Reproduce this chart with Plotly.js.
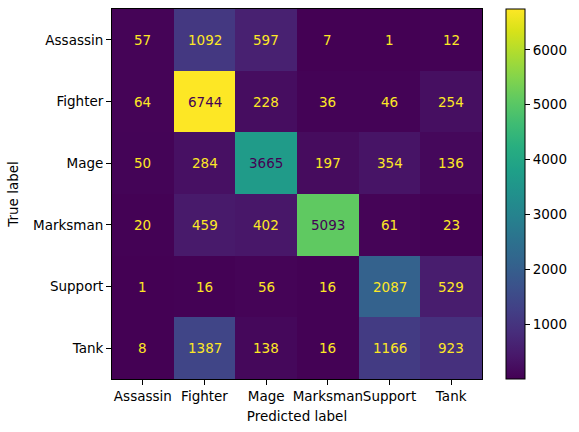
<!DOCTYPE html>
<html><head><meta charset="utf-8">
<script src="https://cdn.plot.ly/plotly-3.0.1.min.js"></script>
<style>html,body{margin:0;padding:0;background:#fff}#plot{width:579px;height:432px}</style>
</head><body><div id="plot"></div>
<script>
const labels = ["Assassin", "Fighter", "Mage", "Marksman", "Support", "Tank"];
const rowAssassin = [57, 1092, 597, 7, 1, 12];
const rowFighter = [64, 6744, 228, 36, 46, 254];
const rowMage = [50, 284, 3665, 197, 354, 136];
const rowMarksman = [20, 459, 402, 5093, 61, 23];
const rowSupport = [1, 16, 56, 16, 2087, 529];
const rowTank = [8, 1387, 138, 16, 1166, 923];
const cbTicks = [1000, 2000, 3000, 4000, 5000, 6000];

const z = [rowAssassin, rowFighter, rowMage, rowMarksman, rowSupport, rowTank];
const flat = z.flat();
const zmin = Math.min(...flat), zmax = Math.max(...flat);
const thresh = (zmin + zmax) / 2;
const fontFam = "DejaVu Sans, sans-serif";
const fs = 13.5;

const annotations = [];
z.forEach((row, i) => row.forEach((v, j) => {
  annotations.push({
    x: labels[j], y: labels[i], xref: 'x', yref: 'y', text: String(v), showarrow: false,
    font: {family: fontFam, size: fs, color: v < thresh ? '#fde725' : '#440154'}
  });
}));

const trace = {
  type: 'heatmap', x: labels, y: labels, z: z, colorscale: 'Viridis',
  zmin: zmin, zmax: zmax, xgap: 0, ygap: 0, hoverinfo: 'none',
  colorbar: {
    x: 1.065, xanchor: 'left', xref: 'paper', y: 0.5, yanchor: 'middle', len: 1, lenmode: 'fraction',
    thickness: 19, thicknessmode: 'pixels', outlinewidth: 1, outlinecolor: '#000',
    tickvals: cbTicks, ticktext: cbTicks.map(String), ticks: 'outside', ticklen: 5, tickwidth: 1, tickcolor: '#000',
    tickfont: {family: fontFam, size: fs, color: '#000'}, xpad: 0, ypad: 0
  }
};

const layout = {
  width: 579, height: 432,
  margin: {l: 112, r: 97, t: 9, b: 53, pad: 0},
  paper_bgcolor: '#fff', plot_bgcolor: '#fff',
  font: {family: fontFam, size: fs, color: '#000'},
  xaxis: {
    title: {text: 'Predicted label', font: {family: fontFam, size: fs, color: '#000'}, standoff: 8},
    tickangle: 0,
    ticks: 'outside', ticklen: 5, tickwidth: 1, tickcolor: '#000',
    showline: true, linecolor: '#000', linewidth: 1, mirror: true, showgrid: false, zeroline: false,
    tickfont: {family: fontFam, size: fs, color: '#000'}
  },
  yaxis: {
    title: {text: 'True label', font: {family: fontFam, size: fs, color: '#000'}, standoff: 11},
    autorange: 'reversed', tickangle: 0,
    ticks: 'outside', ticklen: 5, tickwidth: 1, tickcolor: '#000',
    showline: true, linecolor: '#000', linewidth: 1, mirror: true, showgrid: false, zeroline: false,
    tickfont: {family: fontFam, size: fs, color: '#000'}
  },
  annotations: annotations
};

Plotly.newPlot('plot', [trace], layout, {displayModeBar: false, staticPlot: true});
</script></body></html>
